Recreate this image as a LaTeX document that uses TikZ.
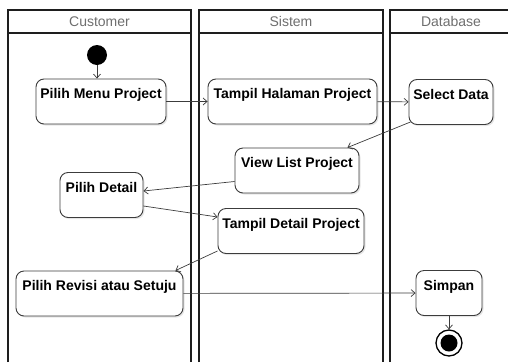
\documentclass[tikz,border=0pt]{standalone}
\usepackage{fontspec}
\setmainfont{Liberation Sans}
\usetikzlibrary{arrows.meta, shadows}
\definecolor{laneline}{RGB}{30,30,30}
\definecolor{headtext}{RGB}{110,110,110}
\definecolor{boxline}{RGB}{60,60,60}

\tikzset{
  lane/.style={line width=1.6pt, laneline},
  lanehead/.style={font=\fontsize{14}{16}\selectfont, headtext},
  act/.style={draw=boxline, line width=0.9pt, rounded corners=8pt, fill=white,
    minimum height=45pt, align=center, inner sep=2pt,
    font=\fontsize{14}{16}\selectfont\bfseries,
    drop shadow={shadow xshift=1.5pt, shadow yshift=-1.5pt, opacity=0.2}},
  flow/.style={-{Straight Barb[length=4pt,width=7pt]}, line width=0.7pt, boxline},
}

\begin{document}
\begin{tikzpicture}[x=1pt, y=-1pt]
  \useasboundingbox (0,0) rectangle (508,362);
  % swimlanes
  \foreach \l/\r/\name in {8/191/Customer, 199/383/Sistem, 390/512/Database}{
    \draw[lane] (\l,362) -- (\l,10) -- (\r,10) -- (\r,362);
    \draw[lane] (\l,33) -- (\r,33);
    \node[lanehead] (\name) at ({(\l+\r)/2},21.5) {\name};
  }

  \node[circle, fill=black, minimum size=20pt, inner sep=0pt] (start) at (97,55) {};
  \node[act, minimum width=130pt] (menu) at (101,101.5) {Pilih Menu Project\\~};
  \node[act, minimum width=169pt] (halaman) at (292.5,101.5) {Tampil Halaman Project\\~};
  \node[act, minimum width=84pt] (select) at (451,102) {Select Data\\~};
  \node[act, minimum width=124pt] (viewlist) at (297,170.5) {View List Project\\~};
  \node[act, minimum width=83pt] (detail) at (101.5,195) {Pilih Detail\\~};
  \node[act, minimum width=146pt] (tdetail) at (291,231) {Tampil Detail Project\\~};
  \node[act, minimum width=167pt] (revisi) at (99.5,293.5) {Pilih Revisi atau Setuju\\~};
  \node[act, minimum width=66pt] (simpan) at (449,293) {Simpan\\~};
  \node[circle, draw=black, line width=1.3pt, minimum size=26pt, inner sep=0pt] (end) at (449,343) {};
  \node[circle, fill=black, minimum size=17pt, inner sep=0pt] (endcore) at (end) {};

  % flow
  \draw[flow] (start) -- (start |- menu.north);
  \draw[flow] (menu) -- (halaman);
  \draw[flow] (halaman) -- (select);
  \draw[flow] ([xshift=2pt,yshift=3pt]select.south west) -- ([xshift=-12pt]viewlist.north east);
  \draw[flow] ([yshift=-11pt]viewlist.west) -- ([yshift=4pt]detail.east);
  \draw[flow] ([yshift=-11pt]detail.east) -- ([yshift=14pt]tdetail.west);
  \draw[flow] ([yshift=3pt]tdetail.south west) -- ([xshift=-8pt]revisi.north east);
  \draw[flow] (revisi) -- (simpan);
  \draw[flow] (simpan) -- (end);
\end{tikzpicture}
\end{document}
